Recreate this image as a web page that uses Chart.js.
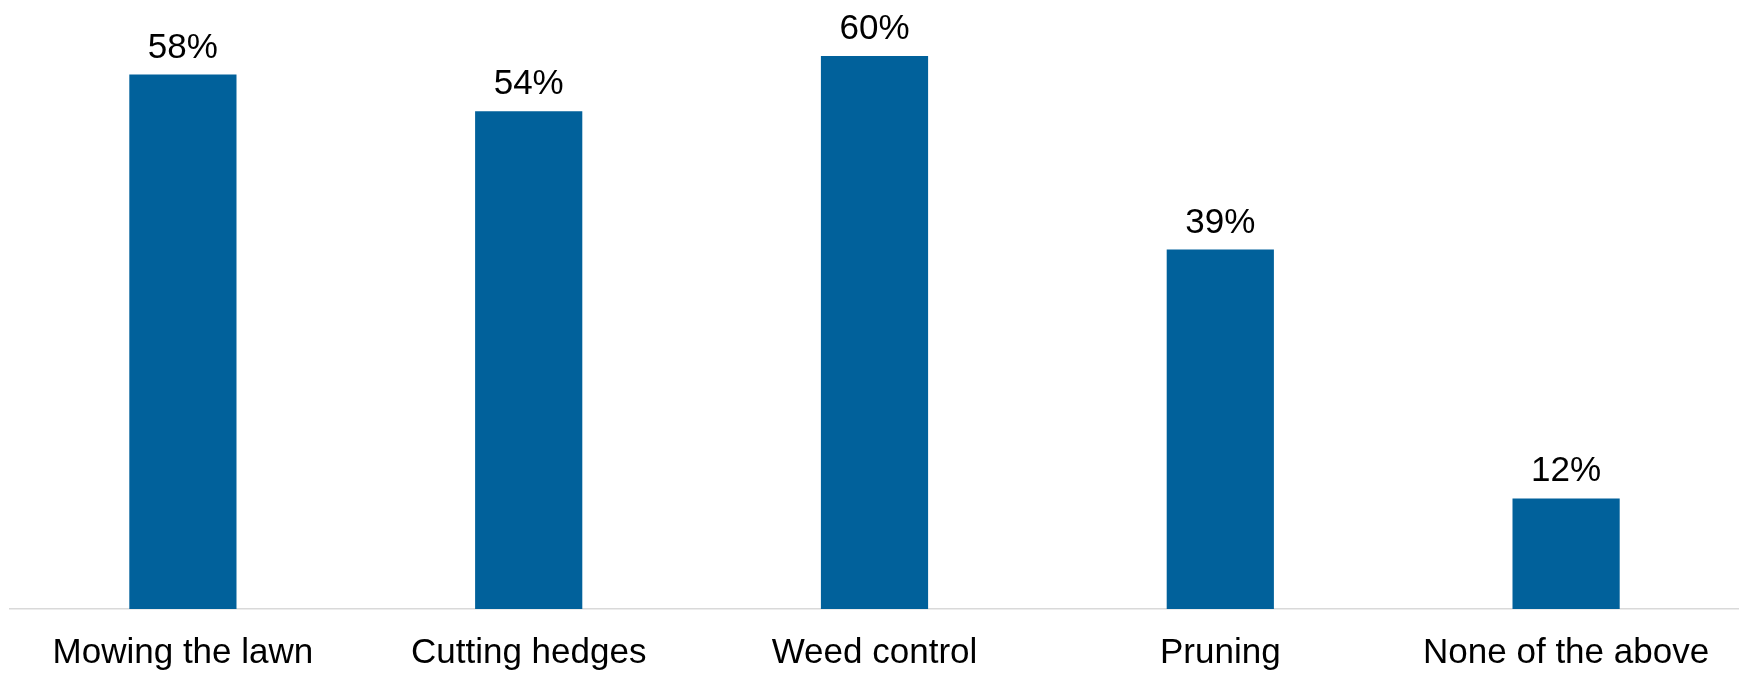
<!DOCTYPE html>
<html>
<head>
<meta charset="utf-8">
<script src="https://cdn.jsdelivr.net/npm/chart.js@4"></script>
<style>
  html, body { margin: 0; padding: 0; background: #fff; }
  #wrap { width: 1739px; height: 674px; position: relative; }
</style>
</head>
<body>
<div id="wrap"><canvas id="chart"></canvas></div>
<script>
const categories = ["Mowing the lawn", "Cutting hedges", "Weed control", "Pruning", "None of the above"];
const shares = [58, 54, 60, 39, 12];
const yMax = 65;

const FONT = "'Liberation Sans', Arial, sans-serif";

// value labels above the bars
const valueLabels = {
  id: "valueLabels",
  afterDatasetsDraw(chart) {
    const ctx = chart.ctx;
    const meta = chart.getDatasetMeta(0);
    ctx.save();
    ctx.font = "35px " + FONT;
    ctx.fillStyle = "#000";
    ctx.textAlign = "center";
    ctx.textBaseline = "alphabetic";
    meta.data.forEach((bar, i) => {
      ctx.fillText(shares[i] + "%", bar.x, bar.y - 17);
    });
    ctx.restore();
  }
};

new Chart(document.getElementById("chart"), {
  type: "bar",
  data: {
    labels: categories,
    datasets: [{
      data: shares,
      backgroundColor: "#01619b",
      barPercentage: 0.31,
      categoryPercentage: 1
    }]
  },
  options: {
    responsive: true,
    maintainAspectRatio: false,
    animation: false,
    layout: { padding: { left: 10, top: 10, right: 0, bottom: 0 } },
    plugins: { legend: { display: false }, tooltip: { enabled: false } },
    scales: {
      x: {
        grid: { display: false, drawTicks: false },
        border: { display: true, color: "#d9d9d9", width: 1.5 },
        ticks: { color: "#000", font: { family: FONT, size: 35 }, padding: 23, maxRotation: 0, autoSkip: false },
        afterFit(scale) { scale.height = 65; }
      },
      y: { display: false, min: 0, max: yMax }
    }
  },
  plugins: [valueLabels]
});
</script>
</body>
</html>
